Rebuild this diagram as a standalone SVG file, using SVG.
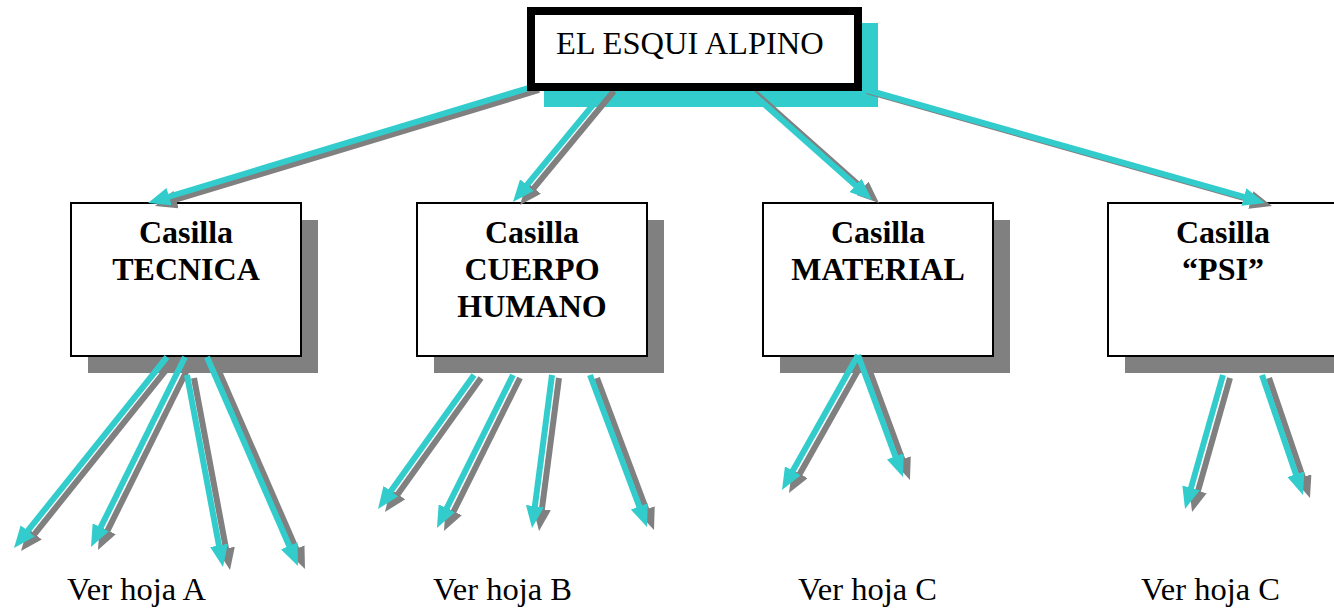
<svg xmlns="http://www.w3.org/2000/svg" width="1334" height="610" viewBox="0 0 1334 610">
<style>
.box{fill:#fff;stroke:#000;stroke-width:2}
.shadow{fill:#808080}
.lbl{font-family:"Liberation Serif","Times New Roman",serif;font-size:32px;font-weight:bold;text-anchor:middle;fill:#000}
.txt{font-family:"Liberation Serif","Times New Roman",serif;font-size:32.5px;fill:#000}
.c{stroke:#33CCCC;stroke-width:6;fill:none;marker-end:url(#hc)}
.g{stroke:#808080;stroke-width:6;fill:none;marker-end:url(#hg)}
</style>
<defs>
<marker id="hc" markerUnits="userSpaceOnUse" viewBox="0 0 22 18" markerWidth="22" markerHeight="18" refX="10" refY="9" orient="auto"><path d="M0,0 L22,9 L0,18 z" fill="#33CCCC"/></marker>
<marker id="hg" markerUnits="userSpaceOnUse" viewBox="0 0 22 18" markerWidth="22" markerHeight="18" refX="10" refY="9" orient="auto"><path d="M0,0 L22,9 L0,18 z" fill="#808080"/></marker>
</defs>
<rect width="1334" height="610" fill="#fff"/>

<g id="top-shadow"><rect x="544" y="23" width="334" height="84" fill="#33CCCC"/></g>

<g id="tecnica">
<rect class="shadow" x="88" y="220" width="230" height="153"/>
<rect class="box" x="71" y="203" width="230" height="153"/>
<text class="lbl" x="186" y="243">Casilla</text>
<text class="lbl" x="186" y="280">TECNICA</text>
</g>
<g id="cuerpo">
<rect class="shadow" x="434" y="220" width="230" height="153"/>
<rect class="box" x="417" y="203" width="230" height="153"/>
<text class="lbl" x="532" y="243">Casilla</text>
<text class="lbl" x="532" y="280">CUERPO</text>
<text class="lbl" x="532" y="317">HUMANO</text>
</g>
<g id="material">
<rect class="shadow" x="780" y="220" width="230" height="153"/>
<rect class="box" x="763" y="203" width="230" height="153"/>
<text class="lbl" x="878" y="243">Casilla</text>
<text class="lbl" x="878" y="280">MATERIAL</text>
</g>
<g id="psi">
<rect class="shadow" x="1125" y="220" width="230" height="153"/>
<rect class="box" x="1108" y="203" width="230" height="153"/>
<text class="lbl" x="1223" y="243">Casilla</text>
<text class="lbl" x="1223" y="280">“PSI”</text>
</g>

<g id="connectors">
<g id="shadows" transform="translate(7,3)">
<path class="g" d="M532,87 L159.5,199.5"/>
<path class="g" d="M607,88 L520.6,192.7"/>
<path class="g" d="M745,87 L863,192"/>
<path class="g" d="M860,88 L1253.5,199.7"/>
<path class="g" d="M167,357 L21.5,538.6"/>
<path class="g" d="M185,357 L96.3,536.2"/>
<path class="g" d="M187,375 L220.8,555.2"/>
<path class="g" d="M207,357 L293.2,555"/>
<path class="g" d="M474,375 L385,499.2"/>
<path class="g" d="M513,375 L442.3,517.2"/>
<path class="g" d="M552,375 L533.6,516.1"/>
<path class="g" d="M590,375 L642.8,515.8"/>
<path class="g" d="M858,355 L787.9,479.5"/>
<path class="g" d="M858,355 L898.8,465.7"/>
<path class="g" d="M1223,375 L1188.3,497.5"/>
<path class="g" d="M1262,375 L1299.1,483.6"/>
</g>
<g id="arrows">
<path class="c" d="M532,87 L159.5,199.5"/>
<path class="c" d="M607,88 L520.6,192.7"/>
<path class="c" d="M745,87 L863,192"/>
<path class="c" d="M860,88 L1253.5,199.7"/>
<path class="c" d="M167,357 L21.5,538.6"/>
<path class="c" d="M185,357 L96.3,536.2"/>
<path class="c" d="M187,375 L220.8,555.2"/>
<path class="c" d="M207,357 L293.2,555"/>
<path class="c" d="M474,375 L385,499.2"/>
<path class="c" d="M513,375 L442.3,517.2"/>
<path class="c" d="M552,375 L533.6,516.1"/>
<path class="c" d="M590,375 L642.8,515.8"/>
<path class="c" d="M858,355 L787.9,479.5"/>
<path class="c" d="M858,355 L898.8,465.7"/>
<path class="c" d="M1223,375 L1188.3,497.5"/>
<path class="c" d="M1262,375 L1299.1,483.6"/>
</g>
</g>

<g id="esqui-alpino">
<rect x="531" y="11" width="327" height="76" fill="#fff" stroke="#000" stroke-width="8"/>
<text class="txt" x="556" y="54">EL ESQUI ALPINO</text>
</g>

<g id="labels">
<text class="txt" x="67" y="600">Ver hoja A</text>
<text class="txt" x="433" y="600">Ver hoja B</text>
<text class="txt" x="798" y="600">Ver hoja C</text>
<text class="txt" x="1141" y="600">Ver hoja C</text>
</g>
</svg>
